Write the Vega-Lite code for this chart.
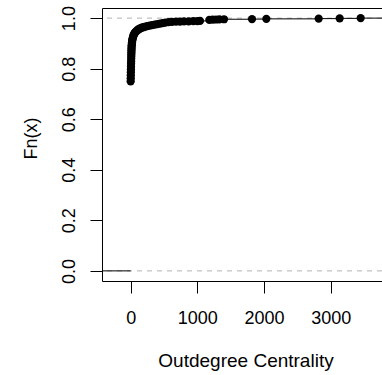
{
  "$schema": "https://vega.github.io/schema/vega-lite/v6.json",
  "width": 280,
  "height": 273,
  "autosize": {"type": "none"},
  "padding": {"left": 102, "top": 8, "right": 0, "bottom": 94},
  "background": "white",
  "config": {"view": {"stroke": null}, "font": "Liberation Sans"},
  "datasets": {
    "knots": [
      {"x": 0, "fn": 0.750}, {"x": 1, "fn": 0.762}, {"x": 2, "fn": 0.774}, {"x": 3, "fn": 0.786},
      {"x": 4, "fn": 0.797}, {"x": 5, "fn": 0.808}, {"x": 6, "fn": 0.819}, {"x": 7, "fn": 0.829},
      {"x": 8, "fn": 0.839}, {"x": 9, "fn": 0.848}, {"x": 10, "fn": 0.857}, {"x": 11, "fn": 0.865},
      {"x": 12, "fn": 0.873}, {"x": 13, "fn": 0.880}, {"x": 14, "fn": 0.887}, {"x": 16, "fn": 0.893},
      {"x": 18, "fn": 0.899}, {"x": 20, "fn": 0.905}, {"x": 23, "fn": 0.910}, {"x": 26, "fn": 0.915},
      {"x": 30, "fn": 0.920}, {"x": 35, "fn": 0.925}, {"x": 40, "fn": 0.929}, {"x": 46, "fn": 0.933},
      {"x": 53, "fn": 0.937}, {"x": 60, "fn": 0.941}, {"x": 70, "fn": 0.944}, {"x": 80, "fn": 0.947},
      {"x": 92, "fn": 0.950}, {"x": 105, "fn": 0.953}, {"x": 120, "fn": 0.956}, {"x": 140, "fn": 0.959},
      {"x": 165, "fn": 0.962}, {"x": 190, "fn": 0.964}, {"x": 220, "fn": 0.966}, {"x": 250, "fn": 0.968},
      {"x": 285, "fn": 0.970}, {"x": 320, "fn": 0.972}, {"x": 360, "fn": 0.974}, {"x": 400, "fn": 0.976},
      {"x": 440, "fn": 0.978}, {"x": 480, "fn": 0.980}, {"x": 520, "fn": 0.982}, {"x": 570, "fn": 0.984},
      {"x": 620, "fn": 0.985}, {"x": 680, "fn": 0.986}, {"x": 740, "fn": 0.9865}, {"x": 800, "fn": 0.987},
      {"x": 870, "fn": 0.9875}, {"x": 940, "fn": 0.988}, {"x": 1000, "fn": 0.9885}, {"x": 1040, "fn": 0.989},
      {"x": 1180, "fn": 0.993}, {"x": 1230, "fn": 0.994}, {"x": 1280, "fn": 0.9945}, {"x": 1330, "fn": 0.995},
      {"x": 1400, "fn": 0.9955}, {"x": 1820, "fn": 0.996}, {"x": 2035, "fn": 0.997}, {"x": 2820, "fn": 0.998},
      {"x": 3135, "fn": 0.999}, {"x": 3450, "fn": 1.0}
    ],
    "tails": [
      {"from": -600, "to": 0, "fn": 0},
      {"from": 3450, "to": 4000, "fn": 1}
    ],
    "refs": [{"fn": 0}, {"fn": 1}]
  },
  "encoding": {
    "y": {
      "field": "fn",
      "type": "quantitative",
      "scale": {"domain": [-0.04, 1.04], "nice": false, "zero": false},
      "axis": {
        "values": [0, 0.2, 0.4, 0.6, 0.8, 1],
        "format": ".1f",
        "title": "Fn(x)",
        "grid": false,
        "domainColor": "black",
        "domainWidth": 1,
        "tickColor": "black",
        "tickSize": 12,
        "labelAngle": -90,
        "labelAlign": "center",
        "labelBaseline": "alphabetic",
        "labelPadding": 16,
        "labelFontSize": 18,
        "labelColor": "black",
        "labelFont": "Liberation Sans",
        "labelFlush": false,
        "labelOverlap": false,
        "titleFont": "Liberation Sans",
        "titleFontSize": 18,
        "titleFontWeight": "normal",
        "titleColor": "black",
        "titleAngle": -90,
        "titleAlign": "center",
        "titleBaseline": "alphabetic",
        "titleX": -65.5,
        "titleY": 130
      }
    }
  },
  "layer": [
    {
      "data": {"name": "refs"},
      "mark": {"type": "rule", "color": "#b3b3b3", "strokeDash": [5, 5], "strokeWidth": 1}
    },
    {
      "data": {"name": "tails"},
      "mark": {"type": "rule", "color": "black", "strokeWidth": 1, "clip": true},
      "encoding": {
        "x": {"field": "from", "type": "quantitative", "scale": {"domain": [-430, 3770], "nice": false, "zero": false}, "axis": null},
        "x2": {"field": "to"}
      }
    },
    {
      "data": {"name": "knots"},
      "transform": [
        {"window": [{"op": "lead", "field": "x", "as": "xnext"}], "sort": [{"field": "x"}]},
        {"filter": "datum.xnext != null"}
      ],
      "mark": {"type": "rule", "color": "black", "strokeWidth": 1, "clip": true},
      "encoding": {
        "x": {
          "field": "x",
          "type": "quantitative",
          "scale": {"domain": [-430, 3770], "nice": false, "zero": false},
          "axis": {
            "orient": "bottom",
            "values": [0, 1000, 2000, 3000],
            "format": "d",
            "title": "Outdegree Centrality",
            "grid": false,
            "domainColor": "black",
            "domainWidth": 1,
            "tickColor": "black",
            "tickSize": 12,
            "labelBaseline": "alphabetic",
            "labelPadding": 30,
            "labelFontSize": 18,
            "labelColor": "black",
            "labelFont": "Liberation Sans",
            "labelFlush": false,
            "labelOverlap": false,
            "titleFont": "Liberation Sans",
            "titleFontSize": 19,
            "titleFontWeight": "normal",
            "titleColor": "black",
            "titleAlign": "center",
            "titleBaseline": "alphabetic",
            "titleX": 143.5,
            "titleY": 85.7
          }
        },
        "x2": {"field": "xnext"}
      }
    },
    {
      "data": {"name": "knots"},
      "mark": {"type": "circle", "size": 68, "color": "black", "opacity": 1},
      "encoding": {
        "x": {
          "field": "x",
          "type": "quantitative",
          "scale": {"domain": [-430, 3770], "nice": false, "zero": false},
          "axis": {"orient": "top", "labels": false, "ticks": false, "grid": false, "title": null, "domain": true, "domainColor": "black", "domainWidth": 1}
        }
      }
    }
  ],
  "resolve": {"axis": {"x": "independent"}}
}
